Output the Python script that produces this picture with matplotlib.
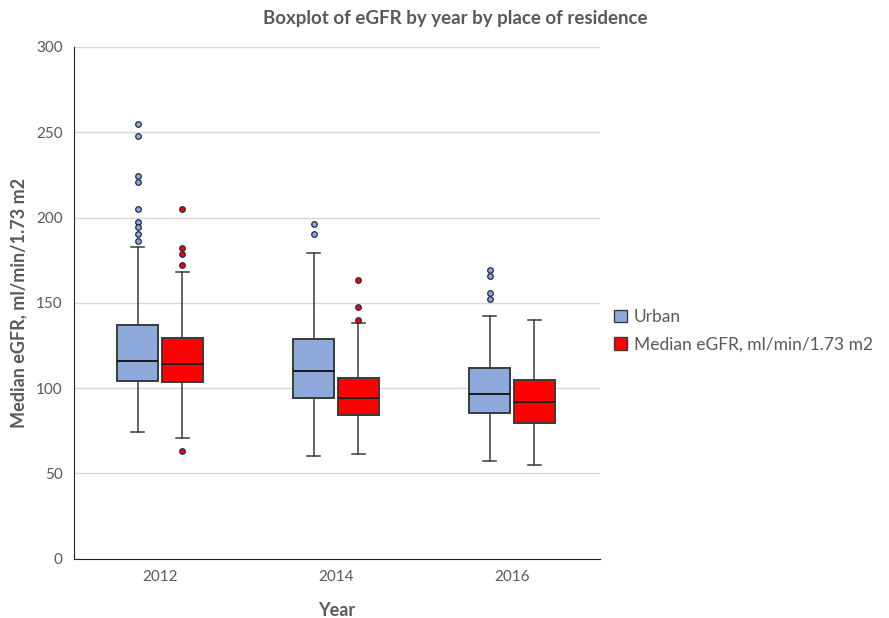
import matplotlib.pyplot as plt
import numpy as np

plt.rcParams['font.family'] = ['Lato', 'DejaVu Sans']

years = ["2012", "2014", "2016"]
series = ["Urban", "Median eGFR, ml/min/1.73 m2"]

# whislo, q1, med, q3, whishi per year
urban_stats = [
    [74, 104, 116, 137, 183],
    [60, 94, 110, 129, 179],
    [57, 85.5, 96.5, 112, 142],
]
urban_fliers = [
    [255, 248, 224.5, 221, 205, 197.5, 194.5, 190.5, 186.5],
    [196.5, 190.5],
    [169.5, 165.5, 155.5, 152],
]
other_stats = [
    [71, 103.5, 114, 129.5, 168],
    [61.5, 84.5, 94, 106, 138],
    [55, 79.5, 92, 104.5, 140],
]
other_fliers = [
    [205, 182, 178.5, 172, 63],
    [163.5, 147.5, 140],
    [],
]

colors = ["#8EA9DB", "#FF0000"]
edge = "#3a3a3a"
txt = "#595959"


def to_bxp(stats, fliers):
    out = []
    for s, f in zip(stats, fliers):
        out.append(dict(whislo=s[0], q1=s[1], med=s[2], q3=s[3], whishi=s[4],
                        fliers=f))
    return out


fig = plt.figure(figsize=(8.89, 6.18), dpi=100)
ax = fig.add_axes([0.083, 0.096, 0.592, 0.828])

x = np.arange(len(years))
w = 0.233
for i, (st, fl) in enumerate([(urban_stats, urban_fliers), (other_stats, other_fliers)]):
    off = -0.128 if i == 0 else 0.127
    ax.bxp(to_bxp(st, fl), positions=x + off, widths=w, capwidths=0.072,
           patch_artist=True, manage_ticks=False,
           boxprops=dict(facecolor=colors[i], edgecolor=edge, linewidth=1.4),
           medianprops=dict(color="#1a1a1a", linewidth=1.4),
           whiskerprops=dict(color=edge, linewidth=1.1),
           capprops=dict(color=edge, linewidth=1.1),
           flierprops=dict(marker="o", markersize=4, markerfacecolor=colors[i],
                           markeredgecolor="#1f2a4a", markeredgewidth=0.9))

ax.set_xlim(-0.49, 2.5)
ax.set_ylim(0, 300)
ax.set_yticks(np.arange(0, 301, 50))
ax.set_xticks(x)
ax.set_xticklabels(years)
ax.yaxis.grid(True, color="#D9D9D9", linewidth=1)
ax.set_axisbelow(True)
for s in ["top", "right"]:
    ax.spines[s].set_visible(False)
ax.spines["left"].set_color("#222222")
ax.spines["bottom"].set_color("#222222")
ax.tick_params(length=0, labelsize=11, colors=txt, pad=8)

fig.text(0.512, 0.97, "Boxplot of eGFR by year by place of residence",
         fontsize=13.5, fontweight="bold", color=txt, ha="center", va="center")
ax.set_xlabel("Year", fontsize=13, fontweight="bold", color=txt, labelpad=13)
ax.set_ylabel("Median eGFR, ml/min/1.73 m2", fontsize=13, fontweight="bold",
              color=txt, labelpad=6)

handles = [plt.Rectangle((0, 0), 1, 1, facecolor=c, edgecolor=edge, linewidth=1)
           for c in colors]
fig.legend(handles, series, loc="center left", bbox_to_anchor=(0.679, 0.465),
           frameon=False, fontsize=12.5, handlelength=0.75, handleheight=0.75,
           handletextpad=0.4, labelspacing=0.65, labelcolor=txt,
           borderaxespad=0.2)

fig.savefig("out.png")
